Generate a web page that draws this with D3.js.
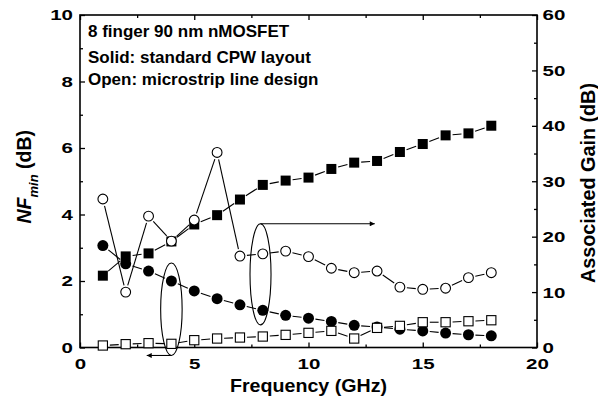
<!DOCTYPE html>
<html>
<head>
<meta charset="utf-8">
<script src="https://cdn.jsdelivr.net/npm/d3@7"></script>
<style>
  body { margin: 0; background: #fff; }
  svg { display: block; }
  text { font-family: "Liberation Sans", Arial, sans-serif; font-weight: bold; fill: #000; }
</style>
</head>
<body>
<svg id="chart" width="598" height="402"></svg>
<script>
// Frequency points (GHz)
const freq = [1, 2, 3, 4, 5, 6, 7, 8, 9, 10, 11, 12, 13, 14, 15, 16, 17, 18];

// NFmin (dB), left axis
const nfCpw        = [2.16, 2.74, 2.83, 3.19, 3.70, 3.98, 4.45, 4.89, 5.02, 5.11, 5.37, 5.56, 5.61, 5.88, 6.12, 6.38, 6.44, 6.67];
const nfMicrostrip = [0.06, 0.10, 0.13, 0.11, 0.22, 0.27, 0.30, 0.33, 0.38, 0.44, 0.50, 0.27, 0.59, 0.65, 0.76, 0.76, 0.79, 0.82];

// Associated gain (dB), right axis
const gainCpw        = [18.4, 15.1, 13.8, 12.0, 10.2, 8.8, 7.7, 6.7, 5.8, 5.3, 4.7, 4.0, 3.7, 3.3, 3.0, 2.6, 2.3, 2.1];
const gainMicrostrip = [26.8, 10.0, 23.7, 19.2, 23.0, 35.2, 16.5, 16.9, 17.4, 16.4, 14.3, 13.5, 13.8, 10.9, 10.5, 10.7, 12.6, 13.5];

// Axis ticks
const freqTicks  = [0, 5, 10, 15, 20];
const freqMinor  = [2.5, 7.5, 12.5, 17.5];
const nfTicks    = [0, 2, 4, 6, 8, 10];
const nfMinor    = [1, 3, 5, 7, 9];
const gainTicks  = [0, 10, 20, 30, 40, 50, 60];
const gainMinor  = [5, 15, 25, 35, 45, 55];

// Annotation text
const notes = ["8 finger 90 nm nMOSFET", "Solid: standard CPW layout", "Open: microstrip line design"];

// Grouping ellipses (frequency, NF-scale extent) and their pointer arrows
const groups = [
  { f: 4.0, lo: -0.24, hi: 2.54, half: 0.47, arrowAt: "lo", arrowTo: 2.92 },
  { f: 7.9, lo: 0.68,  hi: 3.72, half: 0.46, arrowAt: "hi", arrowTo: 12.9 }
];

const svg = d3.select("#chart");
const x  = d3.scaleLinear().domain([0, 20]).range([80, 537]);
const yL = d3.scaleLinear().domain([0, 10]).range([347.5, 15]);
const yR = d3.scaleLinear().domain([0, 60]).range([347.5, 15]);

const axisColor = "#000";
const tickFont = 15.5;
const digitW = 11.4;

function styleAxis(g, withText) {
  g.select(".domain").remove();
  g.selectAll(".tick line").attr("stroke", axisColor).attr("stroke-width", 1.3);
  if (withText) {
    g.selectAll(".tick text")
      .style("font-size", tickFont + "px")
      .style("font-family", "'Liberation Sans', Arial, sans-serif")
      .style("font-weight", "bold")
      .attr("fill", "#000")
      .attr("textLength", d => String(d).length * digitW)
      .attr("lengthAdjust", "spacingAndGlyphs");
  } else {
    g.selectAll(".tick text").remove();
  }
}

// Bottom axis
svg.append("g").attr("transform", "translate(0,347.5)")
  .call(d3.axisBottom(x).tickValues(freqTicks).tickSize(-5).tickPadding(10.5).tickFormat(d3.format("d")))
  .call(g => styleAxis(g, true));
svg.append("g").attr("transform", "translate(0,347.5)")
  .call(d3.axisBottom(x).tickValues(freqMinor).tickSize(-3))
  .call(g => styleAxis(g, false));
// Top axis
svg.append("g").attr("transform", "translate(0,15)")
  .call(d3.axisTop(x).tickValues(freqTicks).tickSize(-5))
  .call(g => styleAxis(g, false));
svg.append("g").attr("transform", "translate(0,15)")
  .call(d3.axisTop(x).tickValues(freqMinor).tickSize(-3))
  .call(g => styleAxis(g, false));
// Left axis
svg.append("g").attr("transform", "translate(80,0)")
  .call(d3.axisLeft(yL).tickValues(nfTicks).tickSize(-5).tickPadding(7).tickFormat(d3.format("d")))
  .call(g => styleAxis(g, true));
svg.append("g").attr("transform", "translate(80,0)")
  .call(d3.axisLeft(yL).tickValues(nfMinor).tickSize(-3))
  .call(g => styleAxis(g, false));
// Right axis
svg.append("g").attr("transform", "translate(537,0)")
  .call(d3.axisRight(yR).tickValues(gainTicks).tickSize(-5).tickPadding(5.5).tickFormat(d3.format("d")))
  .call(g => styleAxis(g, true));
svg.append("g").attr("transform", "translate(537,0)")
  .call(d3.axisRight(yR).tickValues(gainMinor).tickSize(-3))
  .call(g => styleAxis(g, false));

// Frame
svg.append("rect")
  .attr("x", x(0)).attr("y", yL(10))
  .attr("width", x(20) - x(0)).attr("height", yL(0) - yL(10))
  .attr("fill", "none").attr("stroke", axisColor).attr("stroke-width", 1.6);

// Connecting lines with a small gap around every symbol
const gap = 7;
function drawSegments(values, yScale) {
  const pts = freq.map((f, i) => [x(f), yScale(values[i])]);
  const segs = [];
  for (let i = 0; i < pts.length - 1; i++) {
    const [x0, y0] = pts[i], [x1, y1] = pts[i + 1];
    const d = Math.hypot(x1 - x0, y1 - y0);
    if (d <= 2 * gap) continue;
    const ux = (x1 - x0) / d, uy = (y1 - y0) / d;
    segs.push([[x0 + ux * gap, y0 + uy * gap], [x1 - ux * gap, y1 - uy * gap]]);
  }
  svg.append("g").selectAll("path").data(segs).join("path")
    .attr("d", d => d3.line()(d))
    .attr("fill", "none").attr("stroke", "#000").attr("stroke-width", 1.1);
}
drawSegments(nfCpw, yL);
drawSegments(gainCpw, yR);
drawSegments(nfMicrostrip, yL);
drawSegments(gainMicrostrip, yR);

// Symbols
const sq = 10;
svg.append("g").selectAll("rect").data(freq).join("rect")
  .attr("x", (f, i) => x(f) - sq / 2).attr("y", (f, i) => yL(nfCpw[i]) - sq / 2)
  .attr("width", sq).attr("height", sq).attr("fill", "#000");
svg.append("g").selectAll("circle").data(freq).join("circle")
  .attr("cx", f => x(f)).attr("cy", (f, i) => yR(gainCpw[i]))
  .attr("r", 5.5).attr("fill", "#000");
svg.append("g").selectAll("rect").data(freq).join("rect")
  .attr("x", (f, i) => x(f) - 4.6).attr("y", (f, i) => yL(nfMicrostrip[i]) - 4.6)
  .attr("width", 9.2).attr("height", 9.2)
  .attr("fill", "#fff").attr("stroke", "#000").attr("stroke-width", 1.1);
svg.append("g").selectAll("circle").data(freq).join("circle")
  .attr("cx", f => x(f)).attr("cy", (f, i) => yR(gainMicrostrip[i]))
  .attr("r", 4.9)
  .attr("fill", "#fff").attr("stroke", "#000").attr("stroke-width", 1.1);

// Ellipses and arrows
svg.append("defs").append("marker")
  .attr("id", "head").attr("viewBox", "0 0 10 10")
  .attr("refX", 10).attr("refY", 5)
  .attr("markerWidth", 9).attr("markerHeight", 5).attr("markerUnits", "userSpaceOnUse")
  .attr("orient", "auto")
  .append("path").attr("d", "M0,0L10,5L0,10Z").attr("fill", "#000");

const ann = svg.append("g");
groups.forEach(g => {
  const cx = x(g.f), cy = (yL(g.lo) + yL(g.hi)) / 2;
  const rx = x(g.f + g.half) - cx, ry = (yL(g.lo) - yL(g.hi)) / 2;
  ann.append("ellipse")
    .attr("cx", cx).attr("cy", cy).attr("rx", rx).attr("ry", ry)
    .attr("fill", "none").attr("stroke", "#000").attr("stroke-width", 1.1);
  const ay = yL(g.arrowAt === "lo" ? g.lo : g.hi);
  ann.append("line")
    .attr("x1", cx).attr("y1", ay).attr("x2", x(g.arrowTo)).attr("y2", ay)
    .attr("stroke", "#000").attr("stroke-width", 1.1)
    .attr("marker-end", "url(#head)");
});

// Annotation text block
const noteBase = [36.8, 62.5, 84.5];
svg.append("g").selectAll("text").data(notes).join("text")
  .attr("x", 88).attr("y", (d, i) => noteBase[i])
  .style("font-size", "17px")
  .text(d => d);

// X title
svg.append("text")
  .attr("x", (x(0) + x(20)) / 2).attr("y", 392)
  .attr("text-anchor", "middle")
  .attr("textLength", 157).attr("lengthAdjust", "spacingAndGlyphs")
  .style("font-size", "17.5px")
  .text("Frequency (GHz)");

// Left title: NFmin (dB)
const lt = svg.append("text")
  .attr("transform", "translate(30.7,176.7) rotate(-90)")
  .attr("text-anchor", "middle")
  .style("font-size", "19.5px");
lt.append("tspan").style("font-style", "italic").text("NF");
lt.append("tspan").style("font-style", "italic").style("font-size", "13px").attr("dy", 7).text("min");
lt.append("tspan").attr("dy", -7).text(" (dB)");

// Right title
svg.append("text")
  .attr("transform", "translate(594.5,183) rotate(-90)")
  .attr("text-anchor", "middle")
  .attr("textLength", 200).attr("lengthAdjust", "spacingAndGlyphs")
  .style("font-size", "20px")
  .text("Associated Gain (dB)");
</script>
</body>
</html>
